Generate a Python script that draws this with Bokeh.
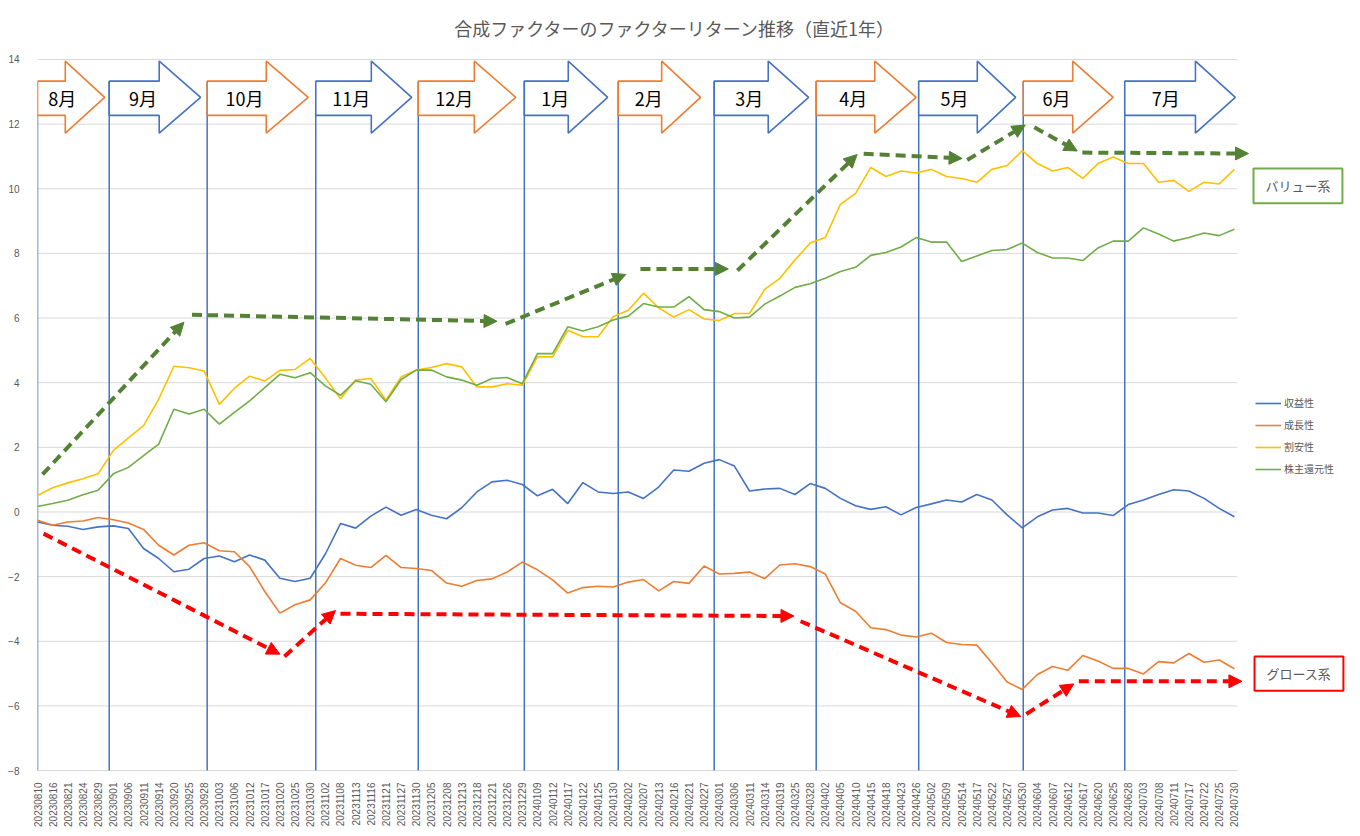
import numpy as np
from bokeh.plotting import figure
from bokeh.models import Range1d, FixedTicker, Arrow, NormalHead, Legend, LegendItem, BoxAnnotation
from bokeh.core.properties import value
from bokeh.embed import file_html
from bokeh.resources import INLINE

# ---------------- data ----------------
dates = [
    "20230810", "20230816", "20230821", "20230824", "20230829",
    "20230901", "20230906", "20230911", "20230914", "20230920", "20230925", "20230928",
    "20231003", "20231006", "20231012", "20231017", "20231020", "20231025", "20231030",
    "20231102", "20231108", "20231113", "20231116", "20231121", "20231127", "20231130",
    "20231205", "20231208", "20231213", "20231218", "20231221", "20231226", "20231229",
    "20240109", "20240112", "20240117", "20240122", "20240125", "20240130",
    "20240202", "20240207", "20240213", "20240216", "20240221", "20240227",
    "20240301", "20240306", "20240311", "20240314", "20240319", "20240325", "20240328",
    "20240402", "20240405", "20240410", "20240415", "20240418", "20240423", "20240426",
    "20240502", "20240509", "20240514", "20240517", "20240522", "20240527", "20240530",
    "20240604", "20240607", "20240612", "20240617", "20240620", "20240625", "20240628",
    "20240703", "20240708", "20240711", "20240717", "20240722", "20240725", "20240730",
]
# business-day index of each dated point (every 3rd trading day)
day_index = list(range(0, 240, 3))

profitability = [  # 収益性
    -0.31, -0.41, -0.44, -0.54, -0.46, -0.43, -0.51, -1.13, -1.44, -1.85,
    -1.77, -1.44, -1.36, -1.54, -1.33, -1.49, -2.05, -2.15, -2.05, -1.30,
    -0.36, -0.50, -0.13, 0.15, -0.10, 0.08, -0.10, -0.21, 0.13, 0.62,
    0.93, 0.98, 0.85, 0.50, 0.70, 0.26, 0.91, 0.62, 0.57, 0.62,
    0.42, 0.77, 1.30, 1.26, 1.51, 1.62, 1.42, 0.65, 0.71, 0.73,
    0.54, 0.88, 0.73, 0.42, 0.19, 0.08, 0.16, -0.09, 0.14, 0.25,
    0.37, 0.31, 0.54, 0.37, -0.09, -0.49, -0.15, 0.06, 0.11, -0.03,
    -0.03, -0.11, 0.23, 0.37, 0.54, 0.69, 0.65, 0.42, 0.11, -0.15,
]
growth = [  # 成長性
    -0.26, -0.41, -0.31, -0.28, -0.17, -0.24, -0.34, -0.54, -1.03, -1.33,
    -1.03, -0.95, -1.20, -1.23, -1.69, -2.46, -3.13, -2.87, -2.72, -2.20,
    -1.44, -1.65, -1.72, -1.34, -1.72, -1.75, -1.81, -2.20, -2.30, -2.12,
    -2.07, -1.86, -1.55, -1.79, -2.10, -2.51, -2.34, -2.30, -2.32, -2.17,
    -2.09, -2.44, -2.15, -2.21, -1.67, -1.92, -1.90, -1.86, -2.06, -1.64,
    -1.60, -1.69, -1.92, -2.81, -3.07, -3.58, -3.64, -3.81, -3.87, -3.75,
    -4.04, -4.10, -4.12, -4.67, -5.26, -5.49, -5.03, -4.78, -4.90, -4.44,
    -4.61, -4.84, -4.84, -5.01, -4.63, -4.67, -4.38, -4.65, -4.58, -4.85,
]
value_f = [  # 割安性
    0.51, 0.75, 0.90, 1.03, 1.18, 1.90, 2.29, 2.67, 3.49, 4.51,
    4.46, 4.36, 3.33, 3.83, 4.20, 4.05, 4.38, 4.41, 4.75, 4.15,
    3.50, 4.08, 4.13, 3.46, 4.18, 4.39, 4.47, 4.59, 4.49, 3.87,
    3.87, 3.97, 3.92, 4.80, 4.80, 5.62, 5.42, 5.42, 6.04, 6.24,
    6.77, 6.32, 6.03, 6.26, 5.97, 5.92, 6.14, 6.14, 6.89, 7.23,
    7.80, 8.32, 8.49, 9.52, 9.86, 10.66, 10.38, 10.55, 10.49, 10.60,
    10.38, 10.32, 10.20, 10.60, 10.72, 11.18, 10.78, 10.55, 10.66, 10.32,
    10.78, 10.98, 10.78, 10.78, 10.20, 10.26, 9.92, 10.20, 10.15, 10.60,
]
shareholder = [  # 株主還元性
    0.17, 0.26, 0.36, 0.53, 0.67, 1.18, 1.38, 1.74, 2.10, 3.18,
    3.03, 3.18, 2.72, 3.08, 3.44, 3.85, 4.26, 4.15, 4.31, 3.90,
    3.61, 4.06, 3.95, 3.41, 4.10, 4.39, 4.39, 4.18, 4.08, 3.92,
    4.13, 4.16, 3.97, 4.90, 4.90, 5.73, 5.60, 5.73, 5.94, 6.06,
    6.45, 6.34, 6.34, 6.66, 6.26, 6.20, 6.00, 6.03, 6.43, 6.68,
    6.95, 7.06, 7.23, 7.44, 7.57, 7.94, 8.03, 8.20, 8.49, 8.35,
    8.35, 7.75, 7.92, 8.09, 8.12, 8.32, 8.03, 7.86, 7.86, 7.78,
    8.17, 8.38, 8.38, 8.79, 8.60, 8.38, 8.49, 8.63, 8.55, 8.75,
]
series_names = ["収益性", "成長性", "割安性", "株主還元性"]
series_colors = ["#4472C4", "#ED7D31", "#FFC000", "#70AD47"]

y_ticks = list(range(-8, 15, 2))

months = ["8月", "9月", "10月", "11月", "12月", "1月", "2月", "3月", "4月", "5月", "6月", "7月"]
month_left = [0, 14.2, 33.6, 55.1, 75.4, 96.4, 115.0, 134.0, 154.2, 174.5, 195.2, 215.3]
month_base = [5.5, 24.1, 45.3, 66.1, 86.5, 105.1, 123.6, 144.7, 165.8, 186.1, 205.0, 229.3]
month_tip = [13.3, 32.3, 53.6, 74.1, 94.7, 112.9, 131.3, 152.7, 174.0, 193.7, 213.0, 237.2]
month_colors = ["#ED7D31", "#4472C4"] * 6

title_text = "合成ファクターのファクターリターン推移（直近1年）"

green_arrows = [  # (x0, y0, x1, y1)
    (1.0, 1.16, 29.0, 5.87),
    (30.6, 6.10, 91.0, 5.90),
    (92.7, 5.82, 116.5, 7.35),
    (119.4, 7.52, 136.8, 7.52),
    (138.6, 7.47, 162.3, 11.06),
    (163.6, 11.08, 183.1, 10.94),
    (184.1, 10.89, 195.6, 11.97),
    (197.4, 11.90, 205.9, 11.17),
    (206.9, 11.12, 239.8, 11.09),
]
red_arrows = [
    (1.2, -0.67, 48.0, -4.40),
    (48.9, -4.47, 59.0, -3.05),
    (60.0, -3.15, 149.8, -3.22),
    (151.1, -3.38, 194.7, -6.33),
    (195.8, -6.25, 205.2, -5.32),
    (206.2, -5.24, 238.5, -5.24),
]

# ---------------- figure ----------------
p = figure(width=1360, height=836, output_backend="svg", toolbar_location=None,
           x_range=Range1d(0, 260.4), y_range=Range1d(-8.03, 15.516),
           min_border_left=37, min_border_right=8, min_border_top=10, min_border_bottom=65)
p.grid.visible = False
p.outline_line_color = None
p.background_fill_color = "white"
p.border_fill_color = "white"

tick_font = "Liberation Sans"
p.xaxis.ticker = FixedTicker(ticks=day_index)
p.xaxis.major_label_overrides = {int(i): d for i, d in zip(day_index, dates)}
p.xaxis.major_label_orientation = np.pi / 2
p.yaxis.ticker = FixedTicker(ticks=y_ticks)
for ax in (p.xaxis, p.yaxis):
    ax.axis_line_color = None
    ax.major_tick_line_color = None
    ax.minor_tick_line_color = None
    ax.major_label_text_font_size = "10px"
    ax.major_label_text_color = "#595959"
    ax.major_label_text_font = tick_font
p.xaxis.major_label_standoff = 5
p.yaxis.major_label_standoff = 12

# outer chart border
p.add_layout(BoxAnnotation(left=6, right=1354, top=5, bottom=831,
                           left_units="canvas", right_units="canvas",
                           top_units="canvas", bottom_units="canvas",
                           fill_alpha=0, line_color="#D9D9D9", line_width=1))

# gridlines
grid_end = 237.6
p.segment(x0=[0] * len(y_ticks), x1=[grid_end] * len(y_ticks), y0=y_ticks, y1=y_ticks,
          line_color="#D9D9D9", line_width=1)

# month separator lines
p.segment(x0=month_left, x1=month_left, y0=[-8] * 12, y1=[13.33] * 12,
          line_color="#4472C4", line_width=1.5)

# series
renderers = []
for name, data, col in zip(series_names, [profitability, growth, value_f, shareholder], series_colors):
    r = p.line(day_index, data, line_color=col, line_width=1.6)
    renderers.append(r)

# dashed arrows
for (x0, y0, x1, y1) in green_arrows:
    p.add_layout(Arrow(x_start=x0, y_start=y0, x_end=x1, y_end=y1,
                       line_color="#548235", line_width=4, line_dash="10 6",
                       end=NormalHead(size=13, fill_color="#548235", line_color="#548235", line_width=1)))
for (x0, y0, x1, y1) in red_arrows:
    p.add_layout(Arrow(x_start=x0, y_start=y0, x_end=x1, y_end=y1,
                       line_color="#FF0000", line_width=4, line_dash="10 6",
                       end=NormalHead(size=13, fill_color="#FF0000", line_color="#FF0000", line_width=1)))

# month block arrows
body_top, body_bot, head_top, head_bot, tip_y = 13.33, 12.27, 13.95, 11.72, 12.83
xs, ys = [], []
for l, b, t in zip(month_left, month_base, month_tip):
    xs.append([l, b, b, t, b, b, l])
    ys.append([body_top, body_top, head_top, tip_y, head_bot, body_bot, body_bot])
p.patches(xs, ys, fill_color="white", line_color=month_colors, line_width=1.6)
text_x = [l + (t - l) * 0.37 for l, t in zip(month_left, month_tip)]
p.text(x=text_x, y=[12.8] * 12, text=months, text_font=value("Noto Sans CJK JP"),
       text_font_size="18px", text_align="center", text_baseline="middle", text_color="#000000")

# title
p.text(x=[126.3], y=[14.96], text=[title_text], text_font=value("Noto Sans CJK JP"),
       text_font_size="18px", text_align="center", text_baseline="middle", text_color="#595959")

# side labels
p.rect(x=[249.6], y=[10.09], width=17.6, height=1.08, fill_color="white",
       line_color="#70AD47", line_width=2)
p.text(x=[249.6], y=[10.09], text=["バリュー系"], text_font=value("Noto Sans CJK JP"),
       text_font_size="13px", text_align="center", text_baseline="middle", text_color="#595959")
p.rect(x=[249.8], y=[-5.0], width=17.6, height=1.06, fill_color="white",
       line_color="#FF0000", line_width=2)
p.text(x=[249.8], y=[-5.0], text=["グロース系"], text_font=value("Noto Sans CJK JP"),
       text_font_size="13px", text_align="center", text_baseline="middle", text_color="#595959")

# legend
legend = Legend(items=[LegendItem(label=n, renderers=[r]) for n, r in zip(series_names, renderers)],
                location=(1218, 295))
legend.border_line_color = None
legend.background_fill_alpha = 0
legend.label_text_font_size = "10px"
legend.label_text_color = "#595959"
legend.label_text_font = "Noto Sans CJK JP"
legend.glyph_width = 26
legend.glyph_height = 14
legend.label_height = 14
legend.spacing = 7
legend.padding = 0
legend.margin = 0
legend.label_standoff = 3
p.add_layout(legend)

open("out.html", "w").write(file_html(p, INLINE))
